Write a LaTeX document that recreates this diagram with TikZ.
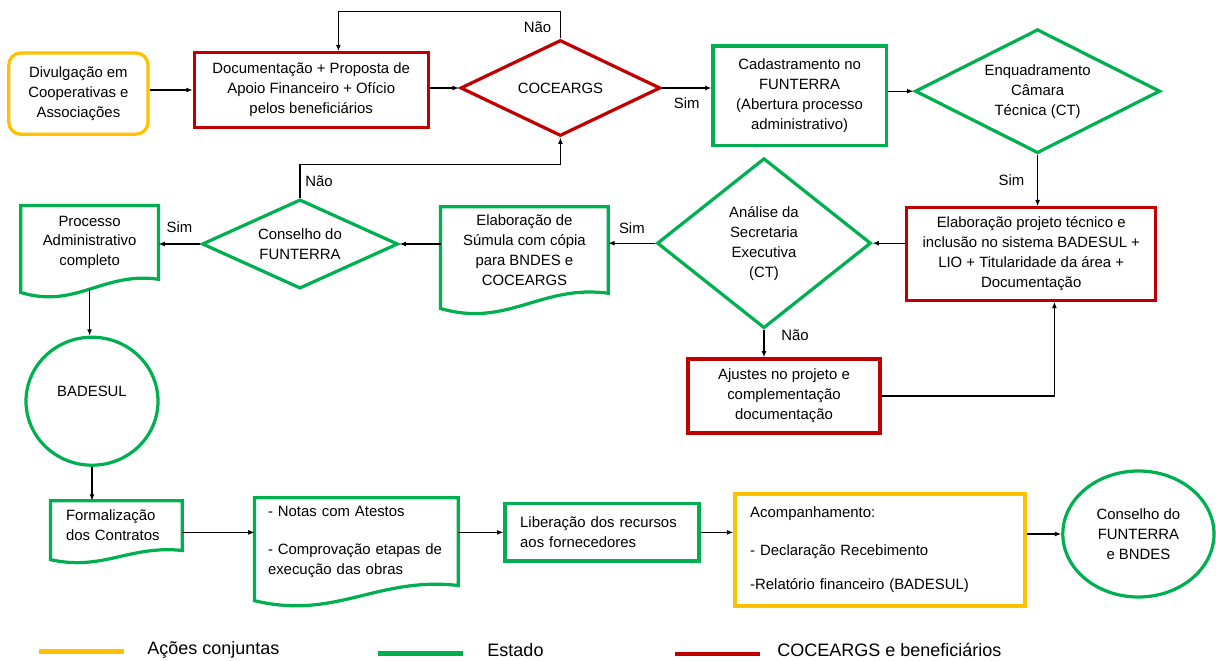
\documentclass[tikz,border=0pt]{standalone}
\usepackage{fontspec}
\setmainfont{Liberation Sans}
\usetikzlibrary{shapes.geometric, arrows.meta}
\definecolor{ouro}{HTML}{FFC000}
\definecolor{verde}{HTML}{00B050}
\definecolor{vermelho}{HTML}{C00000}

\begin{document}
\begin{tikzpicture}[
    font=\fontsize{10.6}{14.2}\selectfont,
    conjunta/.style={draw=ouro, line width=2.3pt},
    estado/.style={draw=verde, line width=2.3pt},
    cocea/.style={draw=vermelho, line width=2.3pt},
    caixa/.style={rectangle, align=center, inner sep=0pt},
    losango/.style={diamond, align=center, inner sep=0pt},
    folha/.style={rectangle, inner sep=0pt},
    seta/.style={-{Latex[length=4.5pt,width=3.5pt]}, line width=0.8pt},
    legenda/.style={font=\fontsize{12.8}{15}\selectfont, anchor=base west, inner sep=0pt},
]
    \useasboundingbox (0,0) rectangle (30.4,-16.525);
    %%% First row
    \node[caixa, conjunta, rounded corners=0.3cm, minimum width=3.48cm, minimum height=2.03cm] (divulg) at (1.96,-2.34) {Divulgação em\\Cooperativas e\\Associações};
    \node[caixa, cocea, minimum width=5.85cm, minimum height=1.86cm] (docum) at (7.78,-2.25) {Documentação + Proposta de\\Apoio Financeiro + Ofício\\pelos beneficiários};
    \node[losango, cocea, shape aspect=2.1, minimum width=5cm, minimum height=2.4cm] (coceargs) at (14.01,-2.2) {COCEARGS};
    \node[caixa, estado, minimum width=4.33cm, minimum height=2.48cm] (cadastro) at (19.99,-2.39) {Cadastramento no\\FUNTERRA\\(Abertura processo\\administrativo)};
    \node[losango, estado, shape aspect=2, minimum width=6.13cm, minimum height=3.1cm] (enquadra) at (25.94,-2.28) {Enquadramento\\Câmara\\Técnica (CT)};
    %
    \draw[seta] (divulg.east |- docum.west) -- (docum.west);
    \draw[seta] (docum.east |- coceargs.west) -- (coceargs.west);
    \draw[seta] (coceargs.east) -- node[below=1mm] {Sim} (coceargs.east -| cadastro.west);
    \draw[seta] (cadastro.east |- enquadra.west) -- (enquadra.west);
    \draw[seta] (coceargs.north) -- node[pos=0.4, left=1mm] {Não} ++(0,0.68) -| ([xshift=0.68cm]docum.north);
    %
    %%% Second row
    \node[caixa, cocea, minimum width=6.23cm, minimum height=2.31cm] (projeto) at (25.78,-6.35) {Elaboração projeto técnico e\\inclusão no sistema BADESUL +\\LIO + Titularidade da área +\\Documentação};
    \node[losango, estado, shape aspect=1.26, minimum width=5.35cm, minimum height=4.25cm] (analise) at (19.1,-6.08) {Análise da\\Secretaria\\Executiva\\(CT)};
    \node[caixa, cocea, minimum width=4.8cm, minimum height=1.85cm] (ajustes) at (19.6,-9.9) {Ajustes no projeto e\\complementação\\documentação};
    \node[folha, align=center, minimum width=4.18cm, minimum height=2.15cm] (sumula) at (13.11,-6.25) {Elaboração de\\Súmula com cópia\\para BNDES e\\COCEARGS};
    \draw[estado] (sumula.north west) -- (sumula.north east) -- (sumula.south east) .. controls +(-1.67,0.23) and +(1.67,-0.49) .. ([yshift=-0.38cm]sumula.south west) -- cycle;
    \node[losango, estado, shape aspect=2.2, minimum width=4.9cm, minimum height=2.23cm] (conselho) at (7.5,-6.1) {Conselho do\\FUNTERRA};
    \node[folha, align=center, minimum width=3.43cm, minimum height=1.83cm] (processo) at (2.24,-6.06) {Processo\\Administrativo\\completo};
    \draw[estado] (processo.north west) -- (processo.north east) -- (processo.south east) .. controls +(-1.37,0.2) and +(1.37,-0.42) .. ([yshift=-0.33cm]processo.south west) -- cycle;
    \node[ellipse, estado, minimum width=3.3cm, minimum height=3.2cm, text depth=0.5cm] (badesul) at (2.3,-10.03) {BADESUL};
    %
    \draw[seta] (enquadra.south) -- node[left=2mm] {Sim} (enquadra.south |- projeto.north);
    \draw[seta] (projeto.west |- analise.east) -- (analise.east);
    \draw[seta] (analise.west) -- node[above=1mm] {Sim} (analise.west -| sumula.east);
    \draw[seta] (analise.south) -- node[pos=0.2, right=3mm] {Não} (analise.south |- ajustes.north);
    \draw[seta] (ajustes.east) -| ([xshift=0.58cm]projeto.south);
    \draw[seta] (sumula.west |- conselho.east) -- (conselho.east);
    \draw[seta] (conselho.west) -- node[above=1.5mm] {Sim} (conselho.west -| processo.east);
    \draw[seta] (conselho.north) -- node[midway, right] {Não} ++(0,0.83) -| (coceargs.south);
    \draw[seta] ([yshift=-0.25cm]processo.south) -- (processo.south |- badesul.north);
    %
    %%% Third row
    \node[folha, align=left, text width=2.52cm, inner xsep=0.38cm, minimum height=1.23cm] (formal) at (2.91,-13.14) {Formalização\\dos Contratos};
    \draw[estado] (formal.north west) -- (formal.north east) -- (formal.south east) .. controls +(-1.31,0.14) and +(1.31,-0.29) .. ([yshift=-0.23cm]formal.south west) -- cycle;
    \node[folha, align=left, text width=4.42cm, inner xsep=0.33cm, minimum height=2.18cm] (notas) at (8.91,-13.54) {- Notas com Atestos\\[0.45cm]- Comprovação etapas de\\execução das obras};
    \draw[estado] (notas.north west) -- (notas.north east) -- (notas.south east) .. controls +(-2.03,0.23) and +(2.03,-0.49) .. ([yshift=-0.38cm]notas.south west) -- cycle;
    \node[caixa, estado, align=left, text width=4.09cm, inner xsep=0.38cm, minimum height=1.43cm] (libera) at (15.05,-13.31) {Liberação dos recursos\\aos fornecedores};
    \node[caixa, conjunta, align=left, text width=6.49cm, inner xsep=0.38cm, minimum height=2.8cm] (acomp) at (22,-13.75) {Acompanhamento:\\[0.45cm]- Declaração Recebimento\\[0.35cm]-Relatório financeiro (BADESUL)};
    \node[ellipse, estado, align=center, minimum width=3.78cm, minimum height=3.15cm] (final) at (28.46,-13.35) {Conselho do\\FUNTERRA\\e BNDES};
    %
    \draw[seta] (badesul.south) -- (badesul.south |- formal.north);
    \draw[seta] (formal.east |- libera.west) -- (notas.west |- libera.west);
    \draw[seta] (notas.east |- libera.west) -- (libera.west);
    \draw[seta] (libera.east) -- (libera.east -| acomp.west);
    \draw[seta] (acomp.east |- final.west) -- (final.west);
    %
    %%% Legend
    \draw[ouro, line width=3.5pt] (0.98,-16.28) -- (3.1,-16.28);
    \node[legenda] (legconj) at (3.68,-16.35) {Ações conjuntas};
    \draw[verde, line width=3.5pt] (9.45,-16.33) -- (11.58,-16.33);
    \node[legenda] (legest) at (12.18,-16.42) {Estado};
    \draw[vermelho, line width=3.5pt] (16.88,-16.35) -- (19.0,-16.35);
    \node[legenda] (legcoc) at (19.43,-16.4) {COCEARGS e beneficiários};
\end{tikzpicture}
\end{document}
